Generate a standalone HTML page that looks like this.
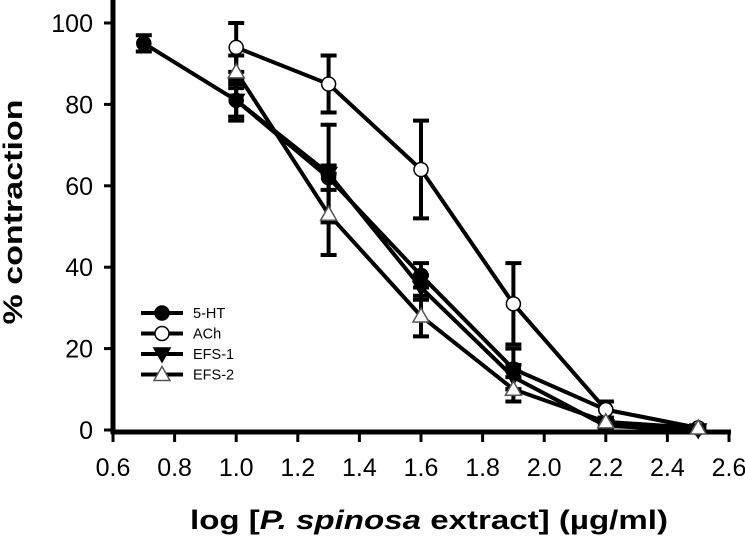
<!DOCTYPE html>
<html><head><meta charset="utf-8"><style>
html,body{margin:0;padding:0;background:#fff;}
svg{display:block;font-family:"Liberation Sans",Arial,sans-serif;}
</style></head><body>
<svg id="chart" width="745" height="537" viewBox="0 0 745 537">
<g id="axes"></g>
<g id="series"></g>
<g id="legend"></g>
<text x="22" y="212" transform="rotate(-90 22 212)" text-anchor="middle" font-size="27" font-weight="bold" textLength="225" lengthAdjust="spacingAndGlyphs">% contraction</text>
<text x="429" y="529" text-anchor="middle" font-size="27" font-weight="bold" textLength="478" lengthAdjust="spacingAndGlyphs">log [<tspan font-style="italic">P. spinosa</tspan> extract] (µg/ml)</text>
</svg>
<script>
const xTicks=[0.6,0.8,1.0,1.2,1.4,1.6,1.8,2.0,2.2,2.4,2.6];
const xTickLabels=["0.6","0.8","1.0","1.2","1.4","1.6","1.8","2.0","2.2","2.4","2.6"];
const yTicks=[0,20,40,60,80,100];
const seriesNames=["5-HT","ACh","EFS-1","EFS-2"];
const xs5HT=[0.7,1.0,1.3,1.6,1.9,2.2,2.5];
const ys5HT=[95,81,62,38,15,5,0.5];
const err5HT=[2,5,3,3,5,2,0.5];
const xsACh=[1.0,1.3,1.6,1.9,2.2,2.5];
const ysACh=[94,85,64,31,5,0.5];
const errACh=[6,7,12,10,2,0.5];
const xsEFS1=[1.0,1.3,1.6,1.9,2.2,2.5];
const ysEFS1=[81,63,35,13,1,0];
const errEFS1=[4,12,3,3,1,0.5];
const xsEFS2=[1.0,1.3,1.6,1.9,2.2,2.5];
const ysEFS2=[88,53,28,10,2,0.5];
const errEFS2=[4,10,5,3,1,0.5];

const NS="http://www.w3.org/2000/svg";
function X(v){return 113+(v-0.6)*308;}
function Y(v){return 430-v*4.07;}
function mk(tag,attrs,parent){const e=document.createElementNS(NS,tag);for(const k in attrs)e.setAttribute(k,attrs[k]);parent.appendChild(e);return e;}
const axes=document.getElementById('axes');
const ser=document.getElementById('series');
const leg=document.getElementById('legend');

let yAxis=mk('line',{x1:113,y1:0,x2:113,y2:434,stroke:'#000','stroke-width':5},axes);


let xAxis=mk('line',{x1:111,y1:432,x2:731,y2:432,stroke:'#000','stroke-width':5},axes);


xTicks.forEach((t,i)=>{
  let l=mk('line',{x1:X(t),y1:432,x2:X(t),y2:442,stroke:'#000','stroke-width':3},axes);
  
  
  let tx=mk('text',{x:X(t),y:476,'text-anchor':'middle','font-size':25},axes);
  tx.textContent=xTickLabels[i];
  
  
});
yTicks.forEach(t=>{
  let l=mk('line',{x1:104,y1:Y(t),x2:113,y2:Y(t),stroke:'#000','stroke-width':3},axes);
  
  
  let tx=mk('text',{x:93,y:Y(t)+9,'text-anchor':'end','font-size':25},axes);
  tx.textContent=String(t);
  
  
});

function marker(kind,cx,cy,parent){
  let e;
  if(kind==='fc') e=mk('circle',{cx:cx,cy:cy,r:7,fill:'#000',stroke:'#000','stroke-width':1.5},parent);
  else if(kind==='oc') e=mk('circle',{cx:cx,cy:cy,r:7,fill:'#fff',stroke:'#000','stroke-width':1.5},parent);
  else if(kind==='dt') e=mk('polygon',{points:`${cx-8},${cy-6} ${cx+8},${cy-6} ${cx},${cy+8}`,fill:'#000',stroke:'#000','stroke-width':1.5},parent);
  else e=mk('polygon',{points:`${cx-8},${cy+6} ${cx+8},${cy+6} ${cx},${cy-8}`,fill:'#fff',stroke:'#555','stroke-width':1.5},parent);
  return e;
}
const defs=[
 {name:'5-HT',xs:xs5HT,ys:ys5HT,err:err5HT,kind:'fc'},
 {name:'ACh',xs:xsACh,ys:ysACh,err:errACh,kind:'oc'},
 {name:'EFS-1',xs:xsEFS1,ys:ysEFS1,err:errEFS1,kind:'dt'},
 {name:'EFS-2',xs:xsEFS2,ys:ysEFS2,err:errEFS2,kind:'ut'}
];
defs.forEach(s=>{
  const g=mk('g',{},ser);
  
  
  s.xs.forEach((x,i)=>{
    const hi=Y(s.ys[i]+s.err[i]),lo=Y(s.ys[i]-s.err[i]);
    let eb=mk('path',{d:`M${X(x)},${hi}V${lo}M${X(x)-8},${hi}H${X(x)+8}M${X(x)-8},${lo}H${X(x)+8}`,stroke:'#000','stroke-width':4,fill:'none'},g);
    
    
  });
  let pl=mk('polyline',{points:s.xs.map((x,i)=>X(x)+','+Y(s.ys[i])).join(' '),fill:'none',stroke:'#000','stroke-width':4,'stroke-linejoin':'round'},g);
  
  
  s.xs.forEach((x,i)=>{
    let m=marker(s.kind,X(x),Y(s.ys[i]),g);
    
    
  });
});
defs.forEach((s,i)=>{
  const y=313+i*20.5;
  const g=mk('g',{},leg);
  
  
  mk('line',{x1:141,y1:y,x2:183,y2:y,stroke:'#000','stroke-width':4},g);
  marker(s.kind,162,y,g);
  let t=mk('text',{x:193,y:y+5,'font-size':14.5},g);
  t.textContent=seriesNames[i];
});
</script>
</body></html>
